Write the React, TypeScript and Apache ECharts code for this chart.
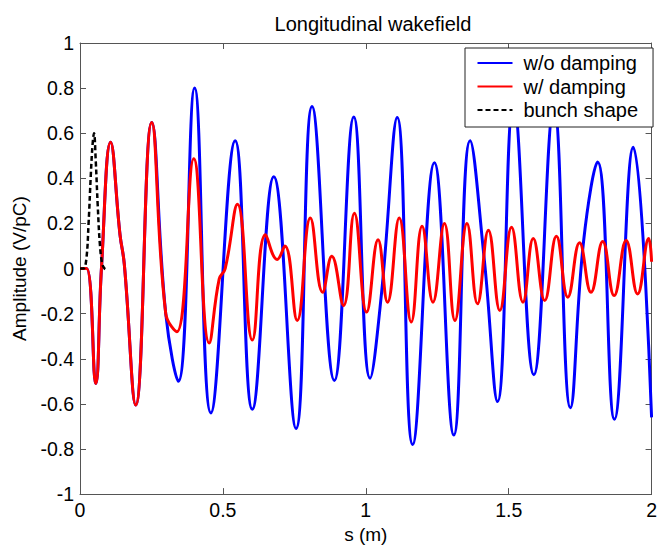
import React, { useEffect, useRef } from "react";
import * as echarts from "echarts";

const titleText = "Longitudinal wakefield";
const xName = "s (m)";
const yName = "Amplitude (V/pC)";
const seriesNames = ["w/o damping", "w/ damping", "bunch shape"];

// w/o damping (blue): [s, amplitude]
const noDamping: number[][] = [
  [0, 0], [0.023, 0], [0.055, -0.51], [0.075, 0], [0.107, 0.56], [0.14, 0.15], [0.155, 0.02],
  [0.195, -0.605], [0.251, 0.648], [0.3, -0.2], [0.344, -0.5], [0.401, 0.8], [0.458, -0.64],
  [0.543, 0.567], [0.603, -0.624], [0.678, 0.407], [0.756, -0.709], [0.812, 0.718],
  [0.89, -0.496], [0.958, 0.672], [1.015, -0.486], [1.055, -0.11], [1.11, 0.67], [1.164, -0.78],
  [1.24, 0.469], [1.308, -0.738], [1.365, 0.567], [1.415, 0.035], [1.461, -0.59], [1.517, 0.74],
  [1.588, -0.471], [1.658, 0.72], [1.716, -0.617], [1.762, 0.12], [1.811, 0.472], [1.87, -0.668],
  [1.936, 0.538], [2.0, -0.66],
];

// w/ damping (red)
const withDamping: number[][] = [
  [0, 0], [0.023, 0], [0.055, -0.51], [0.075, 0], [0.107, 0.56], [0.14, 0.15], [0.155, 0.02],
  [0.195, -0.605], [0.251, 0.648], [0.3, -0.2], [0.339, -0.28], [0.398, 0.487], [0.452, -0.33],
  [0.487, -0.047], [0.508, 0.0], [0.551, 0.285], [0.603, -0.317], [0.649, 0.15], [0.69, 0.04],
  [0.717, 0.1], [0.76, -0.23], [0.806, 0.224], [0.849, -0.105], [0.881, 0.055], [0.922, -0.164],
  [0.96, 0.245], [1.003, -0.193], [1.043, 0.128], [1.076, -0.149], [1.117, 0.224], [1.159, -0.237],
  [1.197, 0.187], [1.235, -0.149], [1.275, 0.2], [1.312, -0.23], [1.354, 0.2], [1.391, -0.156],
  [1.429, 0.17], [1.469, -0.186], [1.51, 0.183], [1.55, -0.149], [1.586, 0.133], [1.626, -0.142],
  [1.667, 0.143], [1.707, -0.127], [1.748, 0.114], [1.788, -0.105], [1.829, 0.12], [1.869, -0.12],
  [1.911, 0.124], [1.951, -0.113], [1.99, 0.133], [2.0, 0.03],
];

// bunch shape (black dashed)
const bunchShape: number[][] = [
  [0, 0], [0.012, 0], [0.022, 0.04], [0.03, 0.2], [0.038, 0.42], [0.044, 0.55], [0.049, 0.6],
  [0.055, 0.48], [0.062, 0.28], [0.07, 0.1], [0.078, 0.02], [0.086, 0], [0.092, -0.005],
];

const FONT = "Liberation Sans";
const AXIS_COLOR = "#555";

export default function App() {
  const ref = useRef<HTMLDivElement>(null);
  useEffect(() => {
    if (!ref.current) return;
    const chart = echarts.init(ref.current, null, { renderer: "svg" });
    const tickCommon = { inside: true, length: 6, lineStyle: { color: AXIS_COLOR } };
    const lineCommon = { show: true, onZero: false, lineStyle: { color: AXIS_COLOR, width: 1 } };
    const labelStyle = { fontFamily: FONT, fontSize: 19.5, color: "#000" };
    chart.setOption({
      animation: false,
      backgroundColor: "#fff",
      textStyle: { fontFamily: FONT },
      title: {
        text: titleText,
        left: 368,
        textAlign: "center",
        top: 9,
        textStyle: { fontFamily: FONT, fontSize: 20, fontWeight: "normal", color: "#000" },
      },
      legend: {
        data: seriesNames,
        orient: "vertical",
        left: 465,
        top: 48,
        padding: [5, 15, 7, 11.5],
        itemWidth: 35,
        itemHeight: 14,
        itemGap: 3.5,
        backgroundColor: "#fff",
        borderColor: "#222",
        borderWidth: 1,
        borderRadius: 0,
        itemStyle: { opacity: 0 },
        textStyle: { fontFamily: FONT, fontSize: 20, lineHeight: 20, color: "#000", padding: [0, 0, 0, 6] },
      },
      grid: { left: 80, right: 3, top: 43, bottom: 50, containLabel: false },
      xAxis: [
        {
          type: "value",
          min: 0,
          max: 2,
          interval: 0.5,
          position: "bottom",
          name: xName,
          nameLocation: "middle",
          nameGap: 30,
          nameTextStyle: { fontFamily: FONT, fontSize: 19, color: "#000" },
          axisLine: lineCommon,
          axisTick: tickCommon,
          axisLabel: { ...labelStyle, margin: 6 },
          splitLine: { show: false },
        },
        {
          type: "value",
          min: 0,
          max: 2,
          interval: 0.5,
          position: "top",
          axisLine: lineCommon,
          axisTick: tickCommon,
          axisLabel: { show: false },
          splitLine: { show: false },
        },
      ],
      yAxis: [
        {
          type: "value",
          min: -1,
          max: 1,
          interval: 0.2,
          position: "left",
          name: yName,
          nameLocation: "middle",
          nameGap: 46,
          nameTextStyle: { fontFamily: FONT, fontSize: 19, color: "#000" },
          axisLine: lineCommon,
          axisTick: tickCommon,
          axisLabel: { ...labelStyle, margin: 6 },
          splitLine: { show: false },
        },
        {
          type: "value",
          min: -1,
          max: 1,
          interval: 0.2,
          position: "right",
          axisLine: lineCommon,
          axisTick: tickCommon,
          axisLabel: { show: false },
          splitLine: { show: false },
        },
      ],
      series: [
        {
          name: seriesNames[0],
          type: "line",
          data: noDamping,
          smooth: 0.45,
          symbol: "none",
          lineStyle: { color: "#0000ff", width: 3 },
          itemStyle: { color: "#0000ff" },
        },
        {
          name: seriesNames[1],
          type: "line",
          data: withDamping,
          smooth: 0.45,
          symbol: "none",
          lineStyle: { color: "#ff0000", width: 3 },
          itemStyle: { color: "#ff0000" },
        },
        {
          name: seriesNames[2],
          type: "line",
          data: bunchShape,
          smooth: 0.4,
          symbol: "none",
          lineStyle: { color: "#000", width: 2.5, type: [5, 3] },
          itemStyle: { color: "#000" },
        },
      ],
    });
    return () => chart.dispose();
  }, []);
  return <div ref={ref} style={{ width: 660, height: 549, position: "absolute", left: 0, top: 0 }} />;
}
